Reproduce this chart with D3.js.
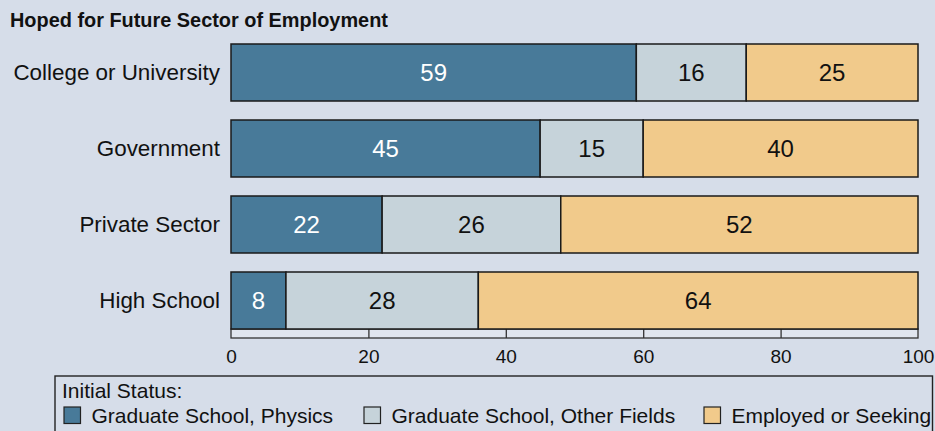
<!DOCTYPE html>
<html>
<head>
<meta charset="utf-8">
<script src="https://cdn.jsdelivr.net/npm/d3@7"></script>
<style>
  html, body { margin: 0; padding: 0; background: #d6dde9; }
  svg { display: block; font-family: "Liberation Sans", Arial, Helvetica, sans-serif; }
</style>
</head>
<body>
<svg id="chart" width="935" height="431"></svg>
<script>
const categories = ["College or University", "Government", "Private Sector", "High School"];
const physics = [59, 45, 22, 8];
const otherFields = [16, 15, 26, 28];
const employed = [25, 40, 52, 64];
const seriesNames = ["Graduate School, Physics", "Graduate School, Other Fields", "Employed or Seeking"];
const seriesColors = ["#487a99", "#c6d3da", "#f1ca8b"];
const labelColors = ["#ffffff", "#111111", "#111111"];
const tickValues = [0, 20, 40, 60, 80, 100];
const title = "Hoped for Future Sector of Employment";
const legendTitle = "Initial Status:";

const svg = d3.select("#chart");
const W = 935, H = 431;
svg.append("rect").attr("width", W).attr("height", H).attr("fill", "#d6dde9");

const x = d3.scaleLinear().domain([0, 100]).range([231, 918]);
const y = d3.scaleBand().domain(categories).range([44, 329]).paddingInner(0.25).paddingOuter(0);

const rows = categories.map((c, i) => ({ cat: c, vals: [physics[i], otherFields[i], employed[i]] }));
const stacked = rows.map(r => {
  let acc = 0;
  return r.vals.map((v, k) => { const s = { cat: r.cat, k, v, x0: acc, x1: acc + v }; acc += v; return s; });
}).flat();

// title
svg.append("text").attr("x", 10).attr("y", 27)
  .attr("font-size", 19.9).attr("font-weight", "bold").attr("fill", "#111")
  .text(title);

// axis strip
const stripTop = y.range()[1], stripBot = 338;
svg.append("rect").attr("x", x(0)).attr("y", stripTop).attr("width", x(100) - x(0)).attr("height", stripBot - stripTop)
  .attr("fill", "#e0e5ee").attr("stroke", "#333").attr("stroke-width", 1.3);
const tickAxis = d3.axisTop(x).tickValues(tickValues.slice(1, -1)).tickSize(stripBot - stripTop).tickFormat("");
const tg = svg.append("g").attr("transform", `translate(0,${stripBot})`).call(tickAxis);
tg.select(".domain").remove();
tg.selectAll(".tick line").attr("stroke", "#333").attr("stroke-width", 1.3);

const labelAxis = d3.axisBottom(x).tickValues(tickValues).tickSize(0).tickPadding(0).tickFormat(d3.format("d"));
const lg = svg.append("g").attr("transform", `translate(0,${stripBot})`).call(labelAxis);
lg.select(".domain").remove();
lg.selectAll(".tick text").attr("font-size", 19).attr("fill", "#111")
  .attr("font-family", "Liberation Sans, Arial, sans-serif").attr("dy", null).attr("y", 25);

// bars
svg.append("g").selectAll("rect").data(stacked).join("rect")
  .attr("x", d => x(d.x0)).attr("y", d => y(d.cat))
  .attr("width", d => x(d.x1) - x(d.x0)).attr("height", y.bandwidth())
  .attr("fill", d => seriesColors[d.k]).attr("stroke", "#1a1a1a").attr("stroke-width", 1.5);

svg.append("g").selectAll("text").data(stacked).join("text")
  .attr("x", d => (x(d.x0) + x(d.x1)) / 2).attr("y", d => y(d.cat) + y.bandwidth() / 2)
  .attr("dy", "0.35em").attr("text-anchor", "middle")
  .attr("font-size", 24).attr("fill", d => labelColors[d.k])
  .text(d => d.v);

// category labels
svg.append("g").selectAll("text").data(categories).join("text")
  .attr("x", 220).attr("y", d => y(d) + y.bandwidth() / 2)
  .attr("dy", "0.35em").attr("text-anchor", "end")
  .attr("font-size", 22.4).attr("fill", "#111")
  .text(d => d);

// legend
const leg = svg.append("g");
leg.append("rect").attr("x", 55).attr("y", 376).attr("width", 877.5).attr("height", 70)
  .attr("fill", "#d6dde9").attr("stroke", "#222").attr("stroke-width", 1.4);
leg.append("text").attr("x", 62).attr("y", 398).attr("font-size", 21).attr("fill", "#111").text(legendTitle);
const legX = [64, 364, 704];
seriesNames.forEach((n, i) => {
  leg.append("rect").attr("x", legX[i]).attr("y", 407).attr("width", 16.5).attr("height", 16.5)
    .attr("fill", seriesColors[i]).attr("stroke", "#222").attr("stroke-width", 1.2);
  leg.append("text").attr("x", legX[i] + 27.5).attr("y", 423).attr("font-size", 21).attr("fill", "#111").text(n);
});
</script>
</body>
</html>
